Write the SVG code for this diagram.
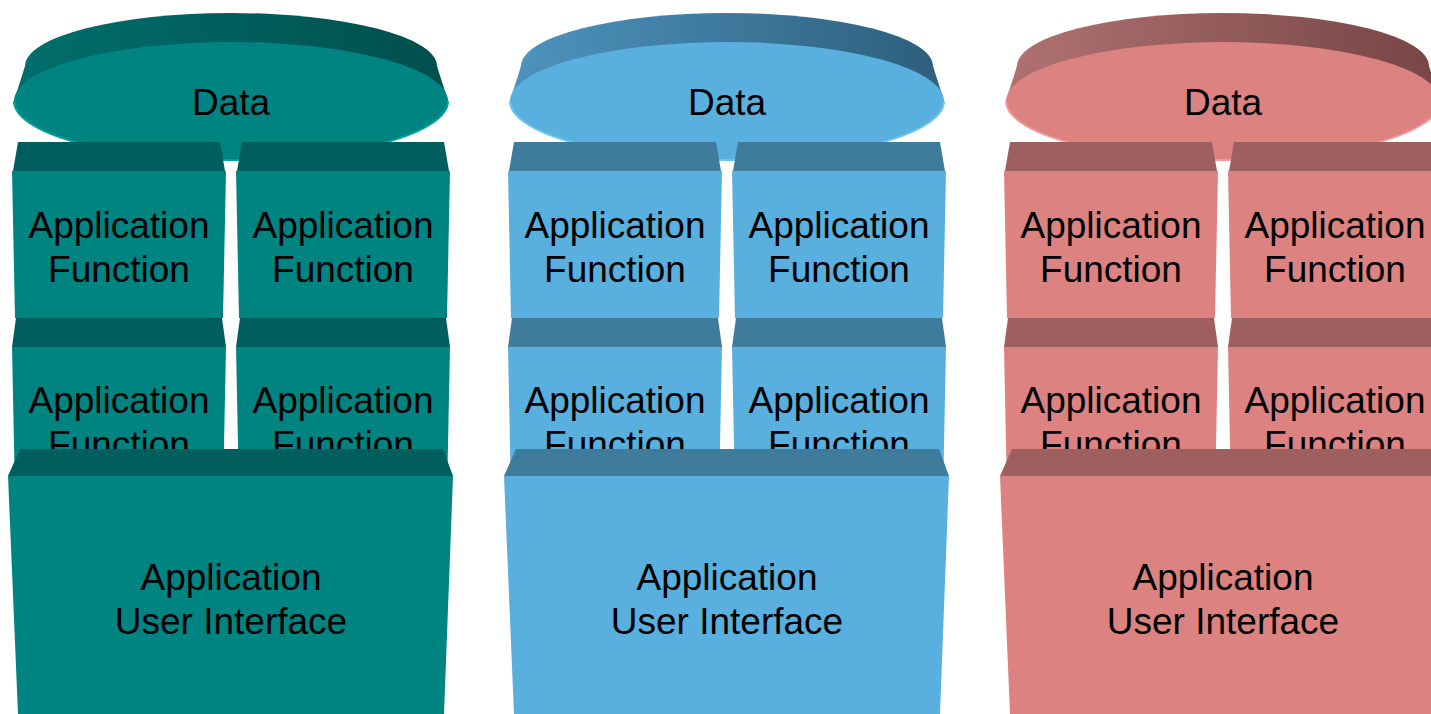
<svg xmlns="http://www.w3.org/2000/svg" width="1431" height="714" viewBox="0 0 1431 714">
<style>
text{font-family:"Liberation Sans",Arial,sans-serif;font-size:37px;fill:#000;text-anchor:middle}
.teal .f{fill:#008482}.teal .d{fill:#005E5C}.teal .rim{stroke:#00A09C}
.blue .f{fill:#59AFDD}.blue .d{fill:#3F7C9C}.blue .rim{stroke:#6CC4F0}
.red .f{fill:#DC8381}.red .d{fill:#9D605F}.red .rim{stroke:#F09A98}
.rim{fill:none;stroke-width:2}
</style>
<defs>
<linearGradient id="gT" x1="0" x2="1" y1="0" y2="0"><stop offset="0" stop-color="#006E6C"/><stop offset="1" stop-color="#004F4D"/></linearGradient>
<linearGradient id="gB" x1="0" x2="1" y1="0" y2="0"><stop offset="0" stop-color="#4D93BD"/><stop offset="1" stop-color="#2E5F7C"/></linearGradient>
<linearGradient id="gR" x1="0" x2="1" y1="0" y2="0"><stop offset="0" stop-color="#AE7170"/><stop offset="1" stop-color="#774645"/></linearGradient>
</defs>

<!-- Column 1: teal -->
<g class="teal">
<g id="data1">
<ellipse cx="231" cy="66" rx="206" ry="53" fill="url(#gT)"/>
<polygon points="25,66 437,66 448,101 14,101" fill="url(#gT)"/>
<ellipse class="f" cx="231" cy="101" rx="217" ry="59"/>
<path class="rim" d="M14,101 A217,59 0 0 0 448,101"/>
<text x="231" y="115">Data</text>
</g>
<g id="func1a">
<polygon class="d" points="18,142 220,142 225,171 13,171"/>
<polygon class="f" points="12,171 226,171 223,318 15,318"/>
<text x="119" y="238">Application</text><text x="119" y="282">Function</text>
</g>
<g id="func1b">
<polygon class="d" points="242,142 444,142 449,171 237,171"/>
<polygon class="f" points="236,171 450,171 447,318 239,318"/>
<text x="343" y="238">Application</text><text x="343" y="282">Function</text>
</g>
<g id="func1c">
<polygon class="d" points="16,318 222,318 226,347 12,347"/>
<polygon class="f" points="12,347 226,347 223,494 15,494"/>
<text x="119" y="413">Application</text><text x="119" y="457">Function</text>
</g>
<g id="func1d">
<polygon class="d" points="240,318 446,318 450,347 236,347"/>
<polygon class="f" points="236,347 450,347 447,494 239,494"/>
<text x="343" y="413">Application</text><text x="343" y="457">Function</text>
</g>
<g id="ui1">
<polygon class="d" points="20,449 443,449 453,476 8,476"/>
<polygon class="f" points="8,476 453,476 444,714 18,714"/>
<text x="231" y="590">Application</text><text x="231" y="634">User Interface</text>
</g>
</g>

<!-- Column 2: blue -->
<g class="blue" transform="translate(496,0)">
<g id="data2">
<ellipse cx="231" cy="66" rx="206" ry="53" fill="url(#gB)"/>
<polygon points="25,66 437,66 448,101 14,101" fill="url(#gB)"/>
<ellipse class="f" cx="231" cy="101" rx="217" ry="59"/>
<path class="rim" d="M14,101 A217,59 0 0 0 448,101"/>
<text x="231" y="115">Data</text>
</g>
<g id="func2a">
<polygon class="d" points="18,142 220,142 225,171 13,171"/>
<polygon class="f" points="12,171 226,171 223,318 15,318"/>
<text x="119" y="238">Application</text><text x="119" y="282">Function</text>
</g>
<g id="func2b">
<polygon class="d" points="242,142 444,142 449,171 237,171"/>
<polygon class="f" points="236,171 450,171 447,318 239,318"/>
<text x="343" y="238">Application</text><text x="343" y="282">Function</text>
</g>
<g id="func2c">
<polygon class="d" points="16,318 222,318 226,347 12,347"/>
<polygon class="f" points="12,347 226,347 223,494 15,494"/>
<text x="119" y="413">Application</text><text x="119" y="457">Function</text>
</g>
<g id="func2d">
<polygon class="d" points="240,318 446,318 450,347 236,347"/>
<polygon class="f" points="236,347 450,347 447,494 239,494"/>
<text x="343" y="413">Application</text><text x="343" y="457">Function</text>
</g>
<g id="ui2">
<polygon class="d" points="20,449 443,449 453,476 8,476"/>
<polygon class="f" points="8,476 453,476 444,714 18,714"/>
<text x="231" y="590">Application</text><text x="231" y="634">User Interface</text>
</g>
</g>

<!-- Column 3: red -->
<g class="red" transform="translate(992,0)">
<g id="data3">
<ellipse cx="231" cy="66" rx="206" ry="53" fill="url(#gR)"/>
<polygon points="25,66 437,66 448,101 14,101" fill="url(#gR)"/>
<ellipse class="f" cx="231" cy="101" rx="217" ry="59"/>
<path class="rim" d="M14,101 A217,59 0 0 0 448,101"/>
<text x="231" y="115">Data</text>
</g>
<g id="func3a">
<polygon class="d" points="18,142 220,142 225,171 13,171"/>
<polygon class="f" points="12,171 226,171 223,318 15,318"/>
<text x="119" y="238">Application</text><text x="119" y="282">Function</text>
</g>
<g id="func3b">
<polygon class="d" points="242,142 444,142 449,171 237,171"/>
<polygon class="f" points="236,171 450,171 447,318 239,318"/>
<text x="343" y="238">Application</text><text x="343" y="282">Function</text>
</g>
<g id="func3c">
<polygon class="d" points="16,318 222,318 226,347 12,347"/>
<polygon class="f" points="12,347 226,347 223,494 15,494"/>
<text x="119" y="413">Application</text><text x="119" y="457">Function</text>
</g>
<g id="func3d">
<polygon class="d" points="240,318 446,318 450,347 236,347"/>
<polygon class="f" points="236,347 450,347 447,494 239,494"/>
<text x="343" y="413">Application</text><text x="343" y="457">Function</text>
</g>
<g id="ui3">
<polygon class="d" points="20,449 443,449 453,476 8,476"/>
<polygon class="f" points="8,476 453,476 444,714 18,714"/>
<text x="231" y="590">Application</text><text x="231" y="634">User Interface</text>
</g>
</g>
<g id="connectors"/>
</svg>
